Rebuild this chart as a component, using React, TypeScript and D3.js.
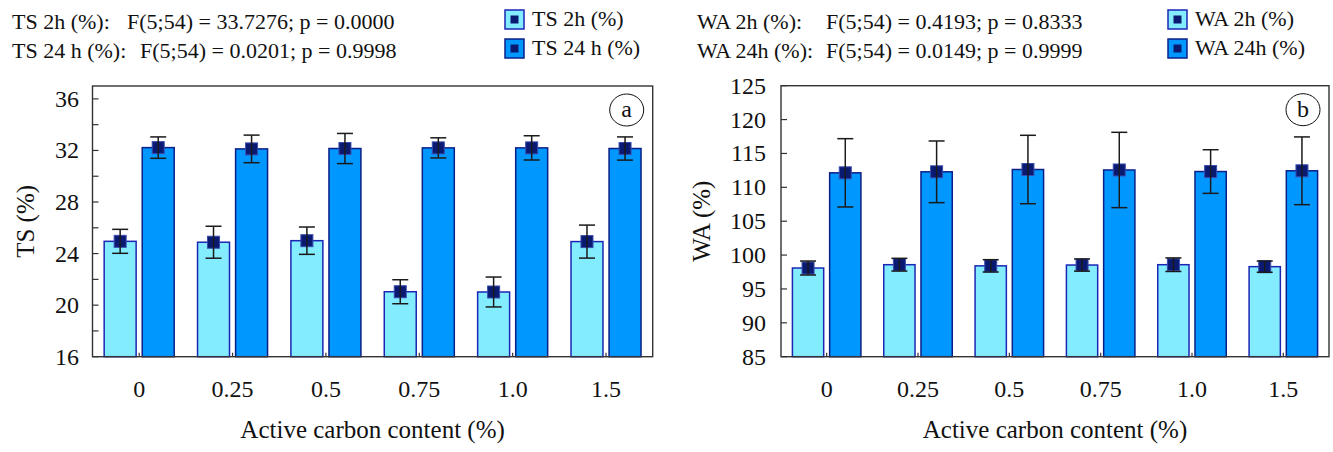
import React from "react";
import * as d3 from "d3";

const categories = ["0", "0.25", "0.5", "0.75", "1.0", "1.5"];

const ts2h = [24.95, 24.88, 25.0, 21.04, 21.02, 24.93];
const ts2hErr = [0.93, 1.24, 1.06, 0.93, 1.16, 1.28];
const ts24h = [32.22, 32.12, 32.15, 32.2, 32.2, 32.15];
const ts24hErr = [0.83, 1.07, 1.17, 0.78, 0.94, 0.9];

const wa2h = [98.09, 98.58, 98.41, 98.53, 98.58, 98.29];
const wa2hErr = [1.03, 0.94, 0.91, 0.9, 1.0, 0.83];
const wa24h = [112.14, 112.29, 112.63, 112.56, 112.33, 112.44];
const wa24hErr = [5.04, 4.55, 5.05, 5.56, 3.22, 5.0];

const tsTicks = [16, 20, 24, 28, 32, 36];
const tsMinorTicks = [18, 22, 26, 30, 34];
const waTicks = [85, 90, 95, 100, 105, 110, 115, 120, 125];

const FONT = "'Liberation Serif', 'Times New Roman', serif";
const LIGHT_FILL = "#84ecff";
const LIGHT_STROKE = "#1c26b4";
const DARK_FILL = "#0098ff";
const DARK_STROKE = "#0b1f88";
const MARK_FILL = "#0a1a70";
const MARK_STROKE = "#3a4cb0";
const ERR = "#1a1a1a";
const FRAME = "#333333";

type PanelProps = {
  left: number;
  right: number;
  top: number;
  bottom: number;
  domain: [number, number];
  ticks: number[];
  minor: number[];
  s1: number[];
  e1: number[];
  s2: number[];
  e2: number[];
  yTitle: string;
  letter: string;
  tickRight: number;
  titleX: number;
};

function Panel(p: PanelProps) {
  const x = d3.scaleBand<string>().domain(categories).range([p.left, p.right]).padding(0);
  const bw = x.bandwidth();
  const inner = d3
    .scaleBand<string>()
    .domain(["a", "b"])
    .range([bw * 0.125, bw * 0.875])
    .paddingInner(0.16);
  const y = d3.scaleLinear().domain(p.domain).range([p.bottom, p.top]);
  const series = [
    { key: "a", vals: p.s1, errs: p.e1, fill: LIGHT_FILL, stroke: LIGHT_STROKE },
    { key: "b", vals: p.s2, errs: p.e2, fill: DARK_FILL, stroke: DARK_STROKE },
  ];
  const ms = 12;
  const cap = 8;
  return (
    <g>
      {series.map((s) =>
        categories.map((c, i) => {
          const x0 = (x(c) as number) + (inner(s.key) as number);
          const w = inner.bandwidth();
          const cx = x0 + w / 2;
          const v = s.vals[i];
          const e = s.errs[i];
          return (
            <g key={s.key + c}>
              <rect
                x={x0}
                y={y(v)}
                width={w}
                height={y(p.domain[0]) - y(v)}
                fill={s.fill}
                stroke={s.stroke}
                strokeWidth={1.5}
              />
              <rect
                x={cx - ms / 2}
                y={y(v) - ms / 2}
                width={ms}
                height={ms}
                fill={MARK_FILL}
                stroke={MARK_STROKE}
                strokeWidth={1}
              />
              <line x1={cx} x2={cx} y1={y(v + e)} y2={y(v - e)} stroke={ERR} strokeWidth={1.5} />
              <line x1={cx - cap} x2={cx + cap} y1={y(v + e)} y2={y(v + e)} stroke={ERR} strokeWidth={1.5} />
              <line x1={cx - cap} x2={cx + cap} y1={y(v - e)} y2={y(v - e)} stroke={ERR} strokeWidth={1.5} />
            </g>
          );
        })
      )}
      <rect
        x={p.left}
        y={p.top}
        width={p.right - p.left}
        height={p.bottom - p.top}
        fill="none"
        stroke={FRAME}
        strokeWidth={1.4}
      />
      {p.ticks.map((t) => (
        <g key={"t" + t}>
          <line x1={p.left} x2={p.left + 6} y1={y(t)} y2={y(t)} stroke={FRAME} strokeWidth={1.2} />
          <text
            x={p.tickRight}
            y={y(t) + 8}
            textAnchor="end"
            fontFamily={FONT}
            fontSize={24}
            fill="#111"
          >
            {t}
          </text>
        </g>
      ))}
      {p.minor.map((t) => (
        <line key={"m" + t} x1={p.left} x2={p.left + 6} y1={y(t)} y2={y(t)} stroke={FRAME} strokeWidth={1.2} />
      ))}
      {categories.map((c) => {
        const cx = (x(c) as number) + bw / 2;
        return (
          <g key={"x" + c}>
            <line x1={cx} x2={cx} y1={p.bottom} y2={p.bottom - 4} stroke={FRAME} strokeWidth={1.2} />
            <text x={cx} y={397} textAnchor="middle" fontFamily={FONT} fontSize={24} fill="#111">
              {c}
            </text>
          </g>
        );
      })}
      <text
        x={(p.left + p.right) / 2}
        y={438}
        textAnchor="middle"
        fontFamily={FONT}
        fontSize={25}
        fill="#111"
      >
        Active carbon content (%)
      </text>
      <text
        transform={`translate(${p.titleX},${(p.top + p.bottom) / 2}) rotate(-90)`}
        textAnchor="middle"
        dominantBaseline="central"
        fontFamily={FONT}
        fontSize={25}
        fill="#111"
      >
        {p.yTitle}
      </text>
      <ellipse
        cx={p.right - 26}
        cy={p.top + 24}
        rx={17}
        ry={16}
        fill="none"
        stroke="#111"
        strokeWidth={1}
      />
      <text
        x={p.right - 26}
        y={p.top + 31}
        textAnchor="middle"
        fontFamily={FONT}
        fontSize={24}
        fill="#111"
      >
        {p.letter}
      </text>
    </g>
  );
}

function LegendItem({ x, y, fill, stroke, label }: { x: number; y: number; fill: string; stroke: string; label: string }) {
  return (
    <g>
      <rect x={x} y={y} width={19} height={19} fill={fill} stroke={stroke} strokeWidth={1.5} />
      <rect x={x + 5.5} y={y + 5.5} width={8} height={8} fill={MARK_FILL} />
      <text x={x + 27} y={y + 16} fontFamily={FONT} fontSize={22} fill="#111">
        {label}
      </text>
    </g>
  );
}

export default function App() {
  const textStyle = { fontFamily: FONT, fontSize: 22, fill: "#111" };
  return (
    <svg
      width={1333}
      height={452}
      style={{ position: "absolute", left: 0, top: 0, background: "#fff" }}
    >
      <rect x={0} y={0} width={1333} height={452} fill="#fff" />
      <text x={12} y={29} {...textStyle}>TS 2h (%):</text>
      <text x={127} y={29} {...textStyle}>F(5;54) = 33.7276; p = 0.0000</text>
      <text x={12} y={58} {...textStyle}>TS 24 h (%):</text>
      <text x={140} y={58} {...textStyle}>F(5;54) = 0.0201; p = 0.9998</text>
      <LegendItem x={505} y={10} fill={LIGHT_FILL} stroke={LIGHT_STROKE} label="TS 2h (%)" />
      <LegendItem x={505} y={39} fill={DARK_FILL} stroke={DARK_STROKE} label="TS 24 h (%)" />

      <text x={697} y={29} {...textStyle}>WA 2h (%):</text>
      <text x={826} y={29} {...textStyle}>F(5;54) = 0.4193; p = 0.8333</text>
      <text x={697} y={58} {...textStyle}>WA 24h (%):</text>
      <text x={826} y={58} {...textStyle}>F(5;54) = 0.0149; p = 0.9999</text>
      <LegendItem x={1168} y={10} fill={LIGHT_FILL} stroke={LIGHT_STROKE} label="WA 2h (%)" />
      <LegendItem x={1168} y={39} fill={DARK_FILL} stroke={DARK_STROKE} label="WA 24h (%)" />

      <Panel
        left={92.5}
        right={652.7}
        top={86}
        bottom={356.7}
        domain={[16, 37]}
        ticks={tsTicks}
        minor={tsMinorTicks}
        s1={ts2h}
        e1={ts2hErr}
        s2={ts24h}
        e2={ts24hErr}
        yTitle="TS (%)"
        letter="a"
        tickRight={79}
        titleX={25}
      />
      <Panel
        left={781}
        right={1329}
        top={85.7}
        bottom={356.7}
        domain={[85, 125]}
        ticks={waTicks}
        minor={[]}
        s1={wa2h}
        e1={wa2hErr}
        s2={wa24h}
        e2={wa24hErr}
        yTitle="WA (%)"
        letter="b"
        tickRight={766}
        titleX={701}
      />
    </svg>
  );
}
